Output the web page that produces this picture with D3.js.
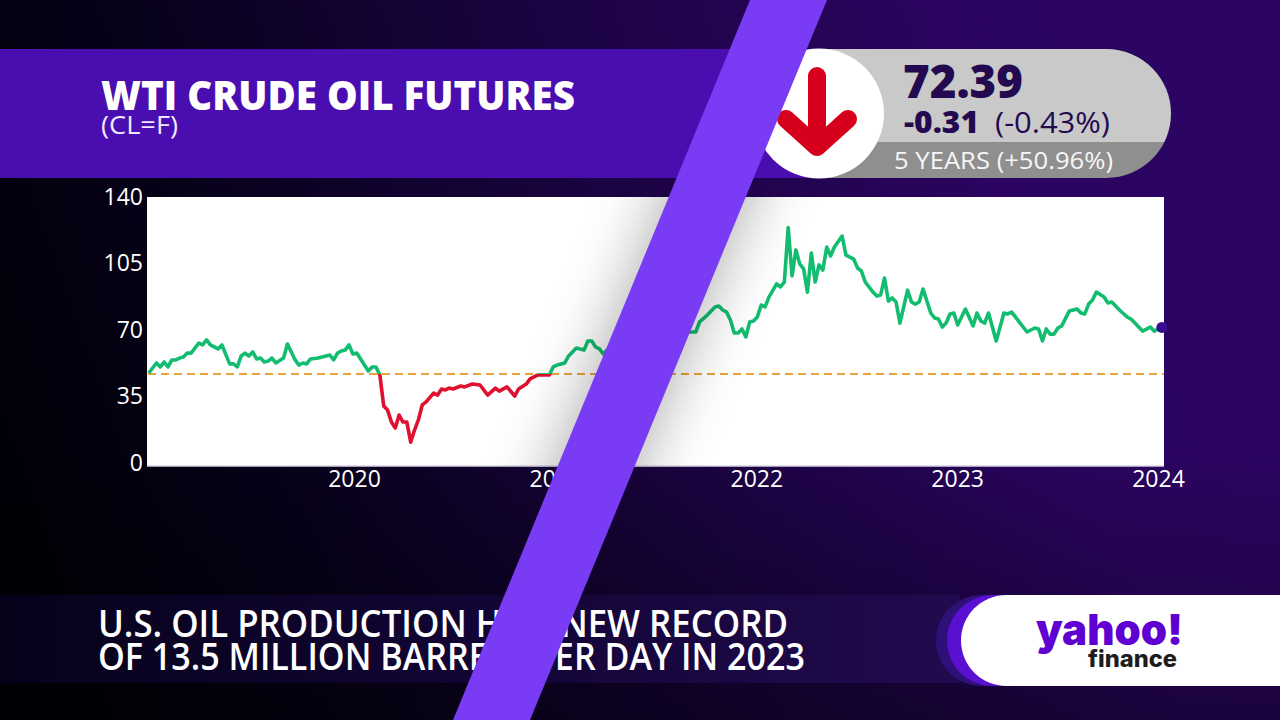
<!DOCTYPE html>
<html><head><meta charset="utf-8">
<script src="https://cdn.jsdelivr.net/npm/d3@7"></script>
<style>html,body{margin:0;padding:0;background:#000;overflow:hidden}svg{display:block}text{font-family:"Open Sans",sans-serif}</style>
</head><body><svg id="c" width="1280" height="720"></svg>
<script>
const firstWeek = new Date(2018, 11, 24);
const weekIndex = [0,2,3,4,5,6,7,8,9,10,11,13,14,15,16,18,19,21,22,23,24,25,26,27,28,29,30,31,32,33,35,36,38,39,40,41,42,44,46,47,48,49,50,51,52,53,54,56,57,58,59,60,61,62,63,64,65,66,67,68,69,70,71,72,74,75,76,77,78,79,81,82,84,86,88,90,91,93,95,96,98,99,101,104,105,106,108,109,111,113,114,115,116,117,118,119,121,123,125,127,129,131,133,135,137,139,140,142,143,145,147,148,149,150,151,152,153,154,155,156,157,158,159,160,161,163,164,165,166,167,168,169,170,171,172,173,174,175,176,177,178,180,181,183,184,185,186,188,189,190,191,192,193,194,195,197,198,199,200,201,203,204,205,206,207,208,209,210,212,214,215,216,217,218,220,222,223,224,228,230,231,232,233,234,235,236,237,239,241,242,243,244,245,246,248,249,250,252,254,255,258,260,261,263];
const prices = [48.4,53.7,51.6,54.2,51.6,55.3,55.3,56.3,56.8,58.9,58.9,64.2,63.2,65.8,63.2,61.1,63.2,53.2,53.2,51.6,57.4,58.9,57.4,59.5,55.8,56.3,54.2,54.7,56.3,53.7,56.3,63.7,55.3,52.6,53.7,53.2,55.8,56.3,57.4,57.9,55.3,58.9,60,60.5,63.2,58.4,58.9,52.6,49.5,51.6,51.6,47.4,31.1,28.9,22.6,19.5,26.3,22.6,22.6,12,18.4,23.7,31.6,33.2,37.9,36.8,40,39.5,40.5,40,41.6,41.1,42.6,42.1,36.8,40.5,38.9,41.1,36.3,40,42.6,45.3,47.4,47.4,51.6,52.6,53.7,57.4,61.6,60.5,65.3,65.3,62.1,61.1,58.4,60.5,63,59.5,61.5,63,65,64,66,69,71,70,70,70,75.3,78.9,83.2,83.7,81.6,80.5,76.3,69.5,69.5,71.6,67.4,75.3,75.8,77.9,84.2,83.2,88.4,95.3,93.7,96.3,125,99.5,113.2,105.8,103.2,91,111.6,96.3,105.3,102.6,114.7,110,114.7,120.5,110.5,108.4,103.7,102.1,96.3,91,88.9,89.5,98.4,86.3,87.9,85.8,74.7,92,85.8,84.7,85.8,92.6,80,77.4,76.8,72.6,74.7,79.5,80,73.7,82.1,73.2,80,75.8,74.7,80,65.3,80,79.5,80.5,70,72.1,71.6,65.3,71.6,68.9,68.9,72.1,73.2,81.1,82.1,80,79.5,84.7,86.8,91,88.4,85.3,85.8,81.6,77.9,76.8,70.5,72.6,70.5,72.39];
const baseline = 47.95;
const priceTicks = [0,35,70,105,140];
const yearTicks = [2020,2021,2022,2023,2024];
const titleText = "WTI CRUDE OIL FUTURES", symbolText = "(CL=F)";
const quote = "72.39", change = "-0.31", changePct = "(-0.43%)", rangeText = "5 YEARS (+50.96%)";
const headline = ["U.S. OIL PRODUCTION HITS NEW RECORD","OF 13.5 MILLION BARRELS PER DAY IN 2023"];

const svg = d3.select("#c"), defs = svg.append("defs");
const date = i => d3.timeDay.offset(firstWeek, i*7);
const x = d3.scaleTime().domain([new Date(2020,0,1), new Date(2024,0,1)]).range([354,1158]);
const y = d3.scaleLinear().domain([0,140]).range([465,199]);
const series = weekIndex.map((w,i)=>({d:date(w),v:prices[i]}));

const bg = defs.append("linearGradient").attr("id","bg").attr("x1",0).attr("y1",0.55).attr("x2",1).attr("y2",0.35);
[[0,"#010008"],[0.2,"#07011a"],[0.5,"#1a0340"],[0.8,"#2a0460"],[1,"#2c0464"]].forEach(s=>bg.append("stop").attr("offset",s[0]).attr("stop-color",s[1]));
const shade = defs.append("linearGradient").attr("id","shade").attr("x1",0).attr("y1",0).attr("x2",0).attr("y2",1);
[[0,0],[0.62,0],[1,0.38]].forEach(s=>shade.append("stop").attr("offset",s[0]).attr("stop-color","#000").attr("stop-opacity",s[1]));
const low = defs.append("linearGradient").attr("id","low").attr("x1",0).attr("x2",1);
[[0,"#06021a"],[0.5,"#120535"],[1,"#220a4e"]].forEach(s=>low.append("stop").attr("offset",s[0]).attr("stop-color",s[1]));
svg.append("rect").attr("width",1280).attr("height",720).attr("fill","url(#bg)");
svg.append("rect").attr("width",1280).attr("height",720).attr("fill","url(#shade)");

// header band
svg.append("rect").attr("x",0).attr("y",49).attr("width",820).attr("height",129).attr("fill","#4a0eb0");
svg.append("text").attr("x",101).attr("y",110).attr("font-size",40).attr("font-weight",800).attr("fill","#fff").attr("textLength",474).attr("lengthAdjust","spacingAndGlyphs").text(titleText);
svg.append("text").attr("x",101).attr("y",134).attr("font-size",25).attr("font-weight",400).attr("fill","#efe8ff").attr("textLength",77).attr("lengthAdjust","spacingAndGlyphs").text(symbolText);

// quote pill
defs.append("clipPath").attr("id","pill").append("rect").attr("x",760).attr("y",49).attr("width",411).attr("height",129).attr("rx",64.5);
const pill = svg.append("g").attr("clip-path","url(#pill)");
pill.append("rect").attr("x",760).attr("y",49).attr("width",411).attr("height",93).attr("fill","#c9c9c9");
pill.append("rect").attr("x",760).attr("y",142).attr("width",411).attr("height",36).attr("fill","#8f8f8f");
svg.append("circle").attr("cx",819).attr("cy",113.5).attr("r",65).attr("fill","#fff");
svg.append("path").attr("d","M817 76V146M786 119L817 147L848 119").attr("fill","none").attr("stroke","#d7001c").attr("stroke-width",18).attr("stroke-linecap","round").attr("stroke-linejoin","round");
svg.append("text").attr("x",903).attr("y",98).attr("font-size",46).attr("font-weight",800).attr("fill","#230a50").attr("textLength",120).attr("lengthAdjust","spacingAndGlyphs").text(quote);
svg.append("text").attr("x",904).attr("y",133).attr("font-size",30).attr("font-weight",800).attr("fill","#230a50").attr("textLength",75).attr("lengthAdjust","spacingAndGlyphs").text(change);
svg.append("text").attr("x",995).attr("y",133).attr("font-size",29).attr("font-weight",400).attr("fill","#230a50").attr("textLength",115).attr("lengthAdjust","spacingAndGlyphs").text(changePct);
svg.append("text").attr("x",894).attr("y",169).attr("font-size",24).attr("font-weight",500).attr("fill","#f6f6f6").attr("textLength",219).attr("lengthAdjust","spacingAndGlyphs").text(rangeText);

// plot
svg.append("rect").attr("x",147).attr("y",197).attr("width",1017).attr("height",269).attr("fill","#fff");
svg.append("line").attr("x1",147).attr("x2",1164).attr("y1",466).attr("y2",466).attr("stroke","#d8d4e4").attr("stroke-width",1.5);
defs.append("clipPath").attr("id","above").append("rect").attr("x",140).attr("y",190).attr("width",1030).attr("height",y(baseline)-190);
defs.append("clipPath").attr("id","below").append("rect").attr("x",140).attr("y",y(baseline)).attr("width",1030).attr("height",280-(y(baseline)-190));
svg.append("line").attr("x1",148).attr("x2",1164).attr("y1",y(baseline)).attr("y2",y(baseline)).attr("stroke","#e8a33c").attr("stroke-width",2).attr("stroke-dasharray","8 5");
const line = d3.line().x(d=>x(d.d)).y(d=>y(d.v));
svg.append("path").datum(series).attr("d",line).attr("fill","none").attr("stroke","#12bd70").attr("stroke-width",3.6).attr("stroke-linejoin","round").attr("clip-path","url(#above)");
svg.append("path").datum(series).attr("d",line).attr("fill","none").attr("stroke","#e0102f").attr("stroke-width",3.6).attr("stroke-linejoin","round").attr("clip-path","url(#below)");
const last = series[series.length-1];
svg.append("circle").attr("cx",x(last.d)).attr("cy",y(last.v)).attr("r",5.5).attr("fill","#3a0a90");

// axes
const yAxis = svg.append("g").attr("transform","translate(147,0)").call(d3.axisLeft(y).tickValues(priceTicks).tickSize(0).tickPadding(4));
const xAxis = svg.append("g").attr("transform","translate(0,466)").call(d3.axisBottom(x).tickValues(yearTicks.map(v=>new Date(v,0,1))).tickSize(0).tickPadding(3).tickFormat(d3.timeFormat("%Y")));
[yAxis,xAxis].forEach(a=>{a.select(".domain").remove();a.selectAll("text").attr("fill","#fff").attr("font-size",23).attr("font-weight",500).style("font-family",'"Open Sans",sans-serif');});
yAxis.selectAll("text").attr("dy","0.32em").attr("transform","translate(0,-2)");
xAxis.selectAll("text").attr("dy","0.78em");

// headline
svg.append("rect").attr("x",0).attr("y",595).attr("width",960).attr("height",88).attr("fill","url(#low)");
const hlWidths=[690,707];
headline.forEach((t,i)=>svg.append("text").attr("x",98).attr("y",637+i*33).attr("font-size",37).attr("font-weight",600).attr("fill","#fff").attr("textLength",hlWidths[i]).attr("lengthAdjust","spacingAndGlyphs").text(t));

// logo
svg.append("rect").attr("x",936).attr("y",595).attr("width",400).attr("height",91).attr("rx",45.5).attr("fill","#2e1078");
svg.append("rect").attr("x",947).attr("y",595).attr("width",400).attr("height",91).attr("rx",45.5).attr("fill","#5a10d0");
svg.append("rect").attr("x",961).attr("y",595).attr("width",400).attr("height",91).attr("rx",45.5).attr("fill","#fff");
svg.append("text").attr("x",1036).attr("y",645).style("font-family","Inter").attr("font-size",43).attr("font-weight",900).attr("fill","#5f01d1").attr("textLength",147).attr("lengthAdjust","spacingAndGlyphs").text("yahoo!");
svg.append("text").attr("x",1088).attr("y",667).style("font-family","Inter").attr("font-size",23).attr("font-weight",800).attr("fill","#1d1d1f").attr("textLength",89).attr("lengthAdjust","spacingAndGlyphs").text("finance");

// slash with soft shadow over the plot
const slashPts = "750,0 827,0 530,720 453,720";
const blur = defs.append("filter").attr("id","blur").attr("x","-100%").attr("width","300%").attr("filterUnits","objectBoundingBox");
blur.append("feGaussianBlur").attr("stdDeviation",32);
defs.append("clipPath").attr("id","plotClip").append("rect").attr("x",147).attr("y",197).attr("width",1017).attr("height",269);
svg.append("g").attr("clip-path","url(#plotClip)").append("polygon").attr("points",slashPts).attr("fill","#000").attr("opacity",0.34).attr("filter","url(#blur)");
svg.append("polygon").attr("points",slashPts).attr("fill","#7a3bf5");
</script></body></html>
